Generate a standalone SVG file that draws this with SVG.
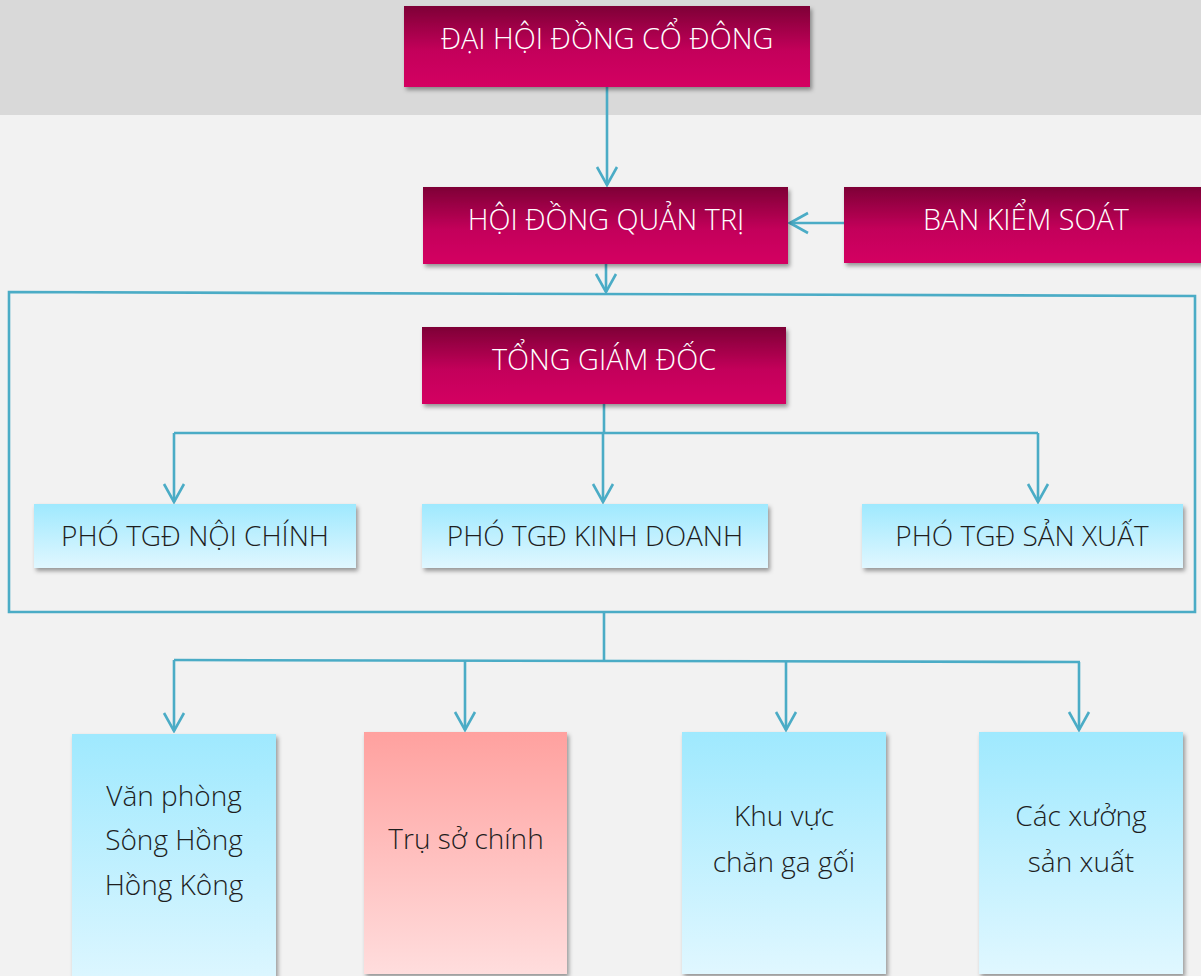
<svg xmlns="http://www.w3.org/2000/svg" width="1201" height="976" viewBox="0 0 1201 976">
<defs>
<linearGradient id="gMag" x1="0" y1="0" x2="0" y2="1">
<stop offset="0" stop-color="#7e0036"/><stop offset="0.55" stop-color="#c3005a"/><stop offset="1" stop-color="#d40062"/>
</linearGradient>
<linearGradient id="gBlue" x1="0" y1="0" x2="0" y2="1">
<stop offset="0" stop-color="#9fe9fe"/><stop offset="1" stop-color="#e0f7ff"/>
</linearGradient>
<linearGradient id="gPink" x1="0" y1="0" x2="0" y2="1">
<stop offset="0" stop-color="#ffa19f"/><stop offset="1" stop-color="#ffdddd"/>
</linearGradient>
<filter id="sh" x="-10%" y="-10%" width="125%" height="135%">
<feDropShadow dx="2" dy="3" stdDeviation="2.2" flood-color="#000" flood-opacity="0.38"/>
</filter>
<marker id="ah" viewBox="-22 -12 24 24" refX="0" refY="0" markerWidth="24" markerHeight="24" markerUnits="userSpaceOnUse" orient="auto">
<path d="M-18,-10 L0,0 L-18,10" fill="none" stroke="#4bacc6" stroke-width="2.6"/>
</marker>
<style>
.w{font-family:"Open Sans","Noto Sans",sans-serif;font-weight:300;fill:#ffffff;font-size:28.8px;text-anchor:middle}
.d{font-family:"Open Sans","Noto Sans",sans-serif;font-weight:300;fill:#1e1e1e;font-size:28px;text-anchor:middle}
.c{fill:none;stroke:#4bacc6;stroke-width:2.6}
</style>
</defs>
<rect x="0" y="0" width="1201" height="976" fill="#f2f2f2"/>
<rect x="0" y="0" width="1201" height="115" fill="#d9d9d9"/>

<g id="connectors">
<path class="c" d="M607,87 V185" marker-end="url(#ah)"/>
<path class="c" d="M844,223 H790" marker-end="url(#ah)"/>
<path class="c" d="M606,264 V292" marker-end="url(#ah)"/>
<path class="c" d="M9,292 L1195,296 L1195,612 L9,612 Z"/>
<path class="c" d="M604,404 V433"/>
<path class="c" d="M174,433 H1038"/>
<path class="c" d="M174,433 V502" marker-end="url(#ah)"/>
<path class="c" d="M603,433 V502" marker-end="url(#ah)"/>
<path class="c" d="M1038,433 V502" marker-end="url(#ah)"/>
<path class="c" d="M604,612 V660"/>
<path class="c" d="M174,660 L1080,662"/>
<path class="c" d="M174,660 V731" marker-end="url(#ah)"/>
<path class="c" d="M465,660 V730" marker-end="url(#ah)"/>
<path class="c" d="M786,661 V730" marker-end="url(#ah)"/>
<path class="c" d="M1079,662 V730" marker-end="url(#ah)"/>
</g>

<g id="dhdcd">
<rect x="404" y="6" width="406" height="81" fill="url(#gMag)" filter="url(#sh)"/>
<text class="w" x="607" y="49">ĐẠI HỘI ĐỒNG CỔ ĐÔNG</text>
</g>
<g id="hdqt">
<rect x="423" y="187" width="365" height="77" fill="url(#gMag)" filter="url(#sh)"/>
<text class="w" x="606" y="230">HỘI ĐỒNG QUẢN TRỊ</text>
</g>
<g id="bks">
<rect x="844" y="187" width="362" height="76" fill="url(#gMag)" filter="url(#sh)"/>
<text class="w" x="1026" y="230">BAN KIỂM SOÁT</text>
</g>
<g id="tgd">
<rect x="422" y="327" width="364" height="77" fill="url(#gMag)" filter="url(#sh)"/>
<text class="w" x="604" y="370">TỔNG GIÁM ĐỐC</text>
</g>
<g id="ptgd-nc">
<rect x="34" y="504" width="322" height="64" fill="url(#gBlue)" filter="url(#sh)"/>
<text class="d" x="195" y="546">PHÓ TGĐ NỘI CHÍNH</text>
</g>
<g id="ptgd-kd">
<rect x="422" y="504" width="346" height="64" fill="url(#gBlue)" filter="url(#sh)"/>
<text class="d" x="595" y="546">PHÓ TGĐ KINH DOANH</text>
</g>
<g id="ptgd-sx">
<rect x="862" y="504" width="321" height="64" fill="url(#gBlue)" filter="url(#sh)"/>
<text class="d" x="1022" y="546">PHÓ TGĐ SẢN XUẤT</text>
</g>
<g id="vp">
<rect x="72" y="734" width="204" height="260" fill="url(#gBlue)" filter="url(#sh)"/>
<text class="d" x="174" y="806">Văn phòng</text>
<text class="d" x="174" y="850">Sông Hồng</text>
<text class="d" x="174" y="895">Hồng Kông</text>
</g>
<g id="tsc">
<rect x="364" y="732" width="203" height="242" fill="url(#gPink)" filter="url(#sh)"/>
<text class="d" x="466" y="849">Trụ sở chính</text>
</g>
<g id="kv">
<rect x="682" y="732" width="204" height="242" fill="url(#gBlue)" filter="url(#sh)"/>
<text class="d" x="784" y="826">Khu vực</text>
<text class="d" x="784" y="872">chăn ga gối</text>
</g>
<g id="cx">
<rect x="979" y="732" width="204" height="242" fill="url(#gBlue)" filter="url(#sh)"/>
<text class="d" x="1081" y="826">Các xưởng</text>
<text class="d" x="1081" y="872">sản xuất</text>
</g>
</svg>
